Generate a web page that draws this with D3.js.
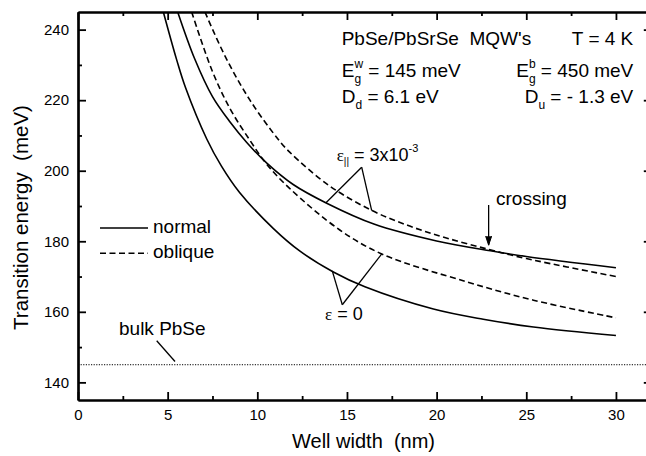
<!DOCTYPE html>
<html>
<head>
<meta charset="utf-8">
<script src="https://cdn.jsdelivr.net/npm/d3@7/dist/d3.min.js"></script>
<style>
  body { margin: 0; background: #fff; }
  svg { display: block; font-family: "Liberation Sans", Arial, sans-serif; }
  text { fill: #000; }
</style>
</head>
<body>
<svg id="chart"></svg>
<script>
// well width (nm), transition energy (meV)
const normalEps0 = [[4.76, 245], [5.5, 231.5], [6.0, 223.5], [7.18, 209], [8.0, 201.3], [9.0, 193.9], [10.9, 183.6], [12.38, 177.2], [14.24, 171.3], [16.0, 167.1], [19.82, 160.8], [22.6, 157.9], [25.4, 155.7], [30, 153.3]];
const obliqueEps0 = [[6.34, 245], [7.5, 228.1], [8.5, 217.4], [9.59, 208.6], [10.5, 202.0], [11.8, 195.0], [14.6, 183.2], [16.94, 176.4], [21.68, 168.5], [25.4, 163.3], [30, 158.3]];
const normalEps3 = [[5.56, 245], [6.5, 231.8], [7.5, 221.0], [8.48, 213.8], [9.41, 208.0], [10.5, 202.3], [12.0, 196.1], [13.87, 190.8], [16.5, 184.9], [20, 180.1], [23, 177.3], [25, 175.7], [30, 172.5]];
const obliqueEps3 = [[7.08, 245], [8.2, 232.5], [9.59, 220.0], [11.15, 209.0], [11.82, 205.2], [14.0, 195.8], [16.4, 188.7], [18.5, 184.3], [20.5, 181.0], [22.9, 177.7], [25, 175.1], [30, 170.0]];
const bulkGap = 145;

const xMajor = [0, 5, 10, 15, 20, 25, 30];
const xMinor = [2.5, 7.5, 12.5, 17.5, 22.5, 27.5];
const yMajor = [140, 160, 180, 200, 220, 240];
const yMinor = [150, 170, 190, 210, 230];

const width = 646, height = 456;
const svg = d3.select("#chart").attr("width", width).attr("height", height);

const x = d3.scaleLinear().domain([0, 32]).range([78, 651.8]);
const y = d3.scaleLinear().domain([135, 245]).range([400, 12]);

svg.append("defs").append("clipPath").attr("id", "plotClip")
  .append("rect")
  .attr("x", x(0)).attr("y", y(245))
  .attr("width", x(32) - x(0)).attr("height", y(135) - y(245));

const plot = svg.append("g").attr("clip-path", "url(#plotClip)");

const line = d3.line()
  .x((d) => x(d[0]))
  .y((d) => y(d[1]))
  .curve(d3.curveCatmullRom.alpha(0.5));

const series = [
  { data: normalEps0, dash: null },
  { data: normalEps3, dash: null },
  { data: obliqueEps0, dash: "6,3.5" },
  { data: obliqueEps3, dash: "6,3.5" },
];

plot.selectAll("path.curve")
  .data(series)
  .join("path")
  .attr("class", "curve")
  .attr("d", (d) => line(d.data))
  .attr("fill", "none")
  .attr("stroke", "#000")
  .attr("stroke-width", 1.6)
  .attr("stroke-dasharray", (d) => d.dash);

// bulk PbSe gap
plot.append("line")
  .attr("x1", x(0)).attr("x2", x(32))
  .attr("y1", y(bulkGap)).attr("y2", y(bulkGap))
  .attr("stroke", "#000")
  .attr("stroke-width", 1)
  .attr("stroke-dasharray", "1.2,1.4");

// axes, ticks point inward on all four sides
function styleAxis(g) {
  g.selectAll("path.domain").attr("stroke", "#000").attr("stroke-width", 2.2);
  g.selectAll(".tick line").attr("stroke", "#000").attr("stroke-width", 1.8);
  g.selectAll("text").attr("fill", "#000").attr("font-size", 15);
}

function addAxis(axisFn, transform, values, size, labels) {
  const g = svg.append("g").attr("transform", transform)
    .call(axisFn.tickValues(values).tickSizeInner(-size).tickSizeOuter(0).tickPadding(9)
      .tickFormat(labels ? d3.format("d") : () => ""));
  styleAxis(g);
  return g;
}

addAxis(d3.axisBottom(x), `translate(0,${y(135)})`, xMajor, 8, true);
addAxis(d3.axisBottom(x), `translate(0,${y(135)})`, xMinor, 4, false);
addAxis(d3.axisTop(x), `translate(0,${y(245)})`, xMajor, 8, false);
addAxis(d3.axisTop(x), `translate(0,${y(245)})`, xMinor, 4, false);
addAxis(d3.axisLeft(y), `translate(${x(0)},0)`, yMajor, 8, true);
addAxis(d3.axisLeft(y), `translate(${x(0)},0)`, yMinor, 4, false);
addAxis(d3.axisRight(y), `translate(${x(32)},0)`, yMajor, 8, false);
addAxis(d3.axisRight(y), `translate(${x(32)},0)`, yMinor, 4, false);

// axis titles
svg.append("text")
  .attr("x", 363.5)
  .attr("y", 448)
  .attr("text-anchor", "middle")
  .attr("font-size", 20)
  .attr("xml:space", "preserve")
  .text("Well width  (nm)");

svg.append("text")
  .attr("transform", "translate(28,217.5) rotate(-90)")
  .attr("text-anchor", "middle")
  .attr("font-size", 20.5)
  .attr("xml:space", "preserve")
  .text("Transition energy  (meV)");

// legend
const legend = [
  { label: "normal", dash: null, yv: 228 },
  { label: "oblique", dash: "6,3.5", yv: 253.3 },
];
const lg = svg.append("g");
lg.selectAll("line")
  .data(legend)
  .join("line")
  .attr("x1", 100).attr("x2", 148)
  .attr("y1", (d) => d.yv).attr("y2", (d) => d.yv)
  .attr("stroke", "#000").attr("stroke-width", 1.6)
  .attr("stroke-dasharray", (d) => d.dash);
lg.selectAll("text")
  .data(legend)
  .join("text")
  .attr("x", 153)
  .attr("y", (d) => d.yv + 5)
  .attr("font-size", 19)
  .text((d) => d.label);

// parameter block
const info = svg.append("g").attr("font-size", 19);
info.append("text").attr("x", 341.7).attr("y", 45).attr("xml:space", "preserve").text("PbSe/PbSrSe  MQW's");
info.append("text").attr("x", 633.3).attr("y", 45).attr("text-anchor", "end").text("T = 4 K");

function subSup(g, xPos, yPos, base, sub, sup, rest, anchor) {
  const t = g.append("text").attr("x", xPos).attr("y", yPos).attr("text-anchor", anchor || "start");
  t.append("tspan").text(base);
  t.append("tspan").attr("font-size", 12).attr("dy", 6).text(sub);
  let shift = 6;
  if (sup) {
    t.append("tspan").attr("font-size", 12).attr("dx", -6.7).attr("dy", -15).text(sup);
    shift = -9;
  }
  t.append("tspan").attr("dy", -shift).text(rest);
  return t;
}
subSup(info, 341.7, 77, "E", "g", "w", " = 145 meV");
subSup(info, 633.3, 77, "E", "g", "b", " = 450 meV", "end");
subSup(info, 341.7, 103.3, "D", "d", null, " = 6.1 eV");
subSup(info, 633.3, 103.3, "D", "u", null, " = - 1.3 eV", "end");

// annotation pointers
const ann = svg.append("g").attr("stroke", "#000").attr("stroke-width", 1.3).attr("fill", "none");
const pt = (d) => [x(d[0]), y(d[1])];
const epsHighApex = [15.82, 201.0];
const epsHighTargets = [[13.83, 190.9], [16.38, 188.7]];
const epsZeroApex = [14.74, 162.0];
const epsZeroTargets = [[14.18, 171.6], [16.94, 176.4]];
const bulkPointer = [[4.39, 151.8], [5.41, 145.9]];
epsHighTargets.forEach((t) => ann.append("path").attr("d", d3.line()([pt(epsHighApex), pt(t)])));
epsZeroTargets.forEach((t) => ann.append("path").attr("d", d3.line()([pt(epsZeroApex), pt(t)])));
ann.append("path").attr("d", d3.line()(bulkPointer.map(pt)));

const epsHigh = svg.append("text").attr("x", 336.7).attr("y", 161).attr("font-size", 18);
epsHigh.append("tspan").attr("font-family", "Liberation Serif, serif").attr("font-size", 17).text("ε");
epsHigh.append("tspan").attr("font-size", 10).attr("dy", 4).text("||");
epsHigh.append("tspan").attr("dy", -4).attr("xml:space", "preserve").text(" = 3x10");
epsHigh.append("tspan").attr("font-size", 11).attr("dy", -9).text("-3");

const epsZero = svg.append("text").attr("x", 325).attr("y", 320).attr("font-size", 18);
epsZero.append("tspan").attr("font-family", "Liberation Serif, serif").attr("font-size", 17).text("ε");
epsZero.append("tspan").attr("xml:space", "preserve").text(" = 0");

svg.append("text").attr("x", 119).attr("y", 335).attr("font-size", 19).text("bulk PbSe");

// crossing arrow
const crossX = 22.9;
const crossTip = 178.9;
svg.append("text").attr("x", 496).attr("y", 205).attr("font-size", 19).text("crossing");
svg.append("line")
  .attr("x1", x(crossX)).attr("x2", x(crossX))
  .attr("y1", 205).attr("y2", y(crossTip))
  .attr("stroke", "#000").attr("stroke-width", 1.3);
svg.append("path")
  .attr("d", d3.line()([[x(crossX) - 3, y(crossTip) - 9], [x(crossX), y(crossTip)], [x(crossX) + 3, y(crossTip) - 9]]))
  .attr("fill", "#000").attr("stroke", "#000").attr("stroke-width", 1);
</script>
</body>
</html>
